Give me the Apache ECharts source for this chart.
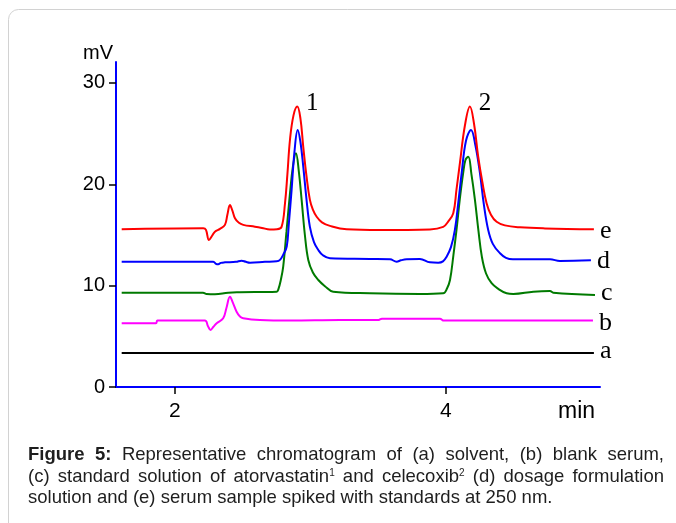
<!DOCTYPE html>
<html>
<head>
<meta charset="utf-8">
<script src="https://cdn.jsdelivr.net/npm/echarts@6/dist/echarts.min.js"></script>
<style>
html,body{margin:0;padding:0;background:#fff;}
#wrap{position:relative;width:676px;height:523px;overflow:hidden;}
#chart{position:absolute;left:0;top:0;width:676px;height:523px;}
#cap{position:absolute;left:28px;top:443px;width:636px;font-family:'Liberation Sans',Arial,sans-serif;font-size:18.5px;line-height:21.5px;color:#1e1e1e;}
#cap .j{text-align:justify;text-align-last:justify;white-space:nowrap;}
#cap sup{font-size:10px;line-height:0;vertical-align:6px;}
</style>
</head>
<body>
<div id="wrap">
<div id="chart"></div>
<div id="cap">
<div class="j"><b>Figure 5:</b> Representative chromatogram of (a) solvent, (b) blank serum,</div>
<div class="j">(c) standard solution of atorvastatin<sup>1</sup> and celecoxib<sup>2</sup> (d) dosage formulation</div>
<div>solution and (e) serum sample spiked with standards at 250 nm.</div>
</div>
</div>
<script>
// time (min), signal (mV)
var seriesNames = ['a', 'b', 'c', 'd', 'e'];
var seriesColors = ['#000000', '#ff00ff', '#007a00', '#0000ff', '#ff0000'];
var xTicks = [2, 4];
var yTicks = [0, 10, 20, 30];
var peakLabels = ['1', '2'];

var trace_a = [[1.607, 3.36], [5.092, 3.36]];
var trace_b = [
  [1.607, 6.29], [1.860, 6.29], [1.871, 6.55], [2.221, 6.55], [2.244, 6.0], [2.263, 5.63],
  [2.284, 5.95], [2.308, 6.29], [2.356, 6.78], [2.380, 7.8], [2.406, 8.91], [2.428, 8.3],
  [2.455, 7.43], [2.480, 6.95], [2.504, 6.78], [2.627, 6.6], [2.849, 6.55], [3.218, 6.6],
  [3.498, 6.6], [3.528, 6.74], [3.956, 6.74], [3.985, 6.55], [5.085, 6.55]
];
var trace_c = [
  [1.607, 9.31], [2.207, 9.31], [2.234, 9.18], [2.295, 9.15], [2.393, 9.31], [2.480, 9.35],
  [2.751, 9.41], [2.762, 9.58], [2.782, 10.6], [2.799, 11.88], [2.823, 15.3], [2.849, 19.1],
  [2.871, 21.8], [2.893, 23.07], [2.914, 21.3], [2.935, 18.46], [2.959, 15.0], [2.984, 12.54],
  [3.018, 11.3], [3.058, 10.56], [3.107, 9.95], [3.168, 9.41], [3.439, 9.25], [3.808, 9.18],
  [3.980, 9.25], [4.007, 9.7], [4.030, 10.56], [4.055, 13.0], [4.078, 15.5], [4.103, 18.6],
  [4.127, 21.1], [4.144, 22.4], [4.165, 22.73], [4.188, 21.0], [4.214, 18.46], [4.240, 15.4],
  [4.265, 12.86], [4.296, 11.2], [4.337, 10.24], [4.384, 9.7], [4.448, 9.25], [4.497, 9.18],
  [4.645, 9.41], [4.768, 9.48], [4.792, 9.31], [5.100, 9.08]
];
var trace_d = [
  [1.607, 12.37], [2.283, 12.37], [2.303, 12.15], [2.320, 12.11], [2.339, 12.25], [2.369, 12.3],
  [2.450, 12.35], [2.492, 12.47], [2.524, 12.35], [2.554, 12.27], [2.664, 12.35], [2.751, 12.4],
  [2.775, 12.54], [2.801, 13.1], [2.825, 13.85], [2.841, 16.2], [2.861, 19.45], [2.882, 23.2],
  [2.906, 25.37], [2.926, 24.2], [2.947, 21.75], [2.971, 18.5], [2.996, 15.8], [3.026, 14.3],
  [3.058, 13.52], [3.092, 13.0], [3.144, 12.7], [3.439, 12.64], [3.587, 12.6], [3.636, 12.37],
  [3.668, 12.5], [3.710, 12.6], [3.808, 12.64], [3.882, 12.3], [3.943, 12.27], [3.978, 12.4],
  [4.005, 12.86], [4.037, 13.8], [4.066, 15.5], [4.092, 18.3], [4.116, 21.1], [4.148, 24.3],
  [4.185, 25.37], [4.218, 23.8], [4.251, 21.1], [4.280, 18.0], [4.312, 15.5], [4.347, 14.1],
  [4.399, 13.2], [4.443, 12.75], [4.494, 12.6], [4.768, 12.6], [4.841, 12.44], [5.070, 12.5]
];
var trace_e = [
  [1.607, 15.57], [2.209, 15.66], [2.229, 15.5], [2.251, 14.5], [2.273, 14.9], [2.295, 15.33],
  [2.332, 15.6], [2.369, 16.0], [2.387, 17.0], [2.406, 17.97], [2.424, 17.4], [2.443, 16.65],
  [2.472, 16.2], [2.504, 16.0], [2.590, 15.82], [2.642, 15.7], [2.701, 15.55], [2.753, 15.57],
  [2.787, 15.8], [2.812, 18.1], [2.830, 21.0], [2.849, 24.4], [2.875, 26.8], [2.903, 27.67],
  [2.926, 26.5], [2.947, 23.7], [2.971, 20.8], [2.996, 18.46], [3.018, 17.5], [3.046, 16.8],
  [3.085, 16.25], [3.144, 15.9], [3.267, 15.57], [3.513, 15.5], [3.882, 15.55], [3.980, 15.8],
  [4.015, 16.3], [4.054, 17.15], [4.078, 19.5], [4.103, 22.08], [4.140, 25.8], [4.177, 27.67],
  [4.207, 26.0], [4.238, 22.73], [4.269, 20.2], [4.300, 18.13], [4.332, 17.0], [4.374, 16.3],
  [4.435, 15.95], [4.546, 15.76], [4.731, 15.65], [5.092, 15.57]
];
var traces = [trace_a, trace_b, trace_c, trace_d, trace_e];
var peakPositions = [[2.903, 27.67], [4.177, 27.67]];

var chart = echarts.init(document.getElementById('chart'), null, {renderer: 'canvas'});
var numFont = "'Liberation Sans', Arial, sans-serif";
var serifFont = "'Liberation Serif', 'Times New Roman', serif";
var labelOffsets = [[0, -2], [0, 3], [0, -2], [0, 1], [0, 2]];

var series = traces.map(function (tr, i) {
  return {
    name: seriesNames[i],
    type: 'line',
    data: tr,
    showSymbol: false,
    symbol: 'none',
    smooth: 0.4,
    lineStyle: {color: seriesColors[i], width: 2},
    itemStyle: {color: seriesColors[i]},
    animation: false,
    silent: true,
    endLabel: {
      show: true,
      formatter: '{a}',
      distance: 6,
      offset: labelOffsets[i],
      color: '#000',
      fontFamily: serifFont,
      fontSize: 26
    }
  };
});

var baseGraphics = [
  {type: 'rect', z: -10, silent: true, shape: {x: 8.5, y: 9.5, width: 720, height: 600, r: 10},
   style: {fill: 'none', stroke: '#d2d2d2', lineWidth: 1}},
  {type: 'text', x: 83, y: 53, silent: true,
   style: {text: 'mV', fontFamily: numFont, fontSize: 20, fill: '#000', verticalAlign: 'middle', align: 'left'}},
  {type: 'text', x: 558, y: 412, silent: true,
   style: {text: 'min', fontFamily: numFont, fontSize: 23, fill: '#000', verticalAlign: 'middle', align: 'left'}}
];

chart.setOption({
  animation: false,
  backgroundColor: '#ffffff',
  grid: {left: 116, right: 76, top: 62, bottom: 136, containLabel: false},
  xAxis: {
    type: 'value', min: 1.565, max: 5.137,
    axisLine: {show: true, lineStyle: {color: '#0000ff', width: 2}},
    axisTick: {show: true, customValues: xTicks, length: 7, lineStyle: {color: '#000', width: 1.5}},
    axisLabel: {show: true, customValues: xTicks, margin: 14, color: '#000', fontFamily: numFont, fontSize: 21},
    splitLine: {show: false}
  },
  yAxis: {
    type: 'value', min: 0, max: 32.07,
    axisLine: {show: true, lineStyle: {color: '#0000ff', width: 2}},
    axisTick: {show: true, customValues: yTicks, length: 7, lineStyle: {color: '#000', width: 1.5}},
    axisLabel: {show: true, customValues: yTicks, margin: 11, color: '#000', fontFamily: numFont, fontSize: 20},
    splitLine: {show: false}
  },
  series: series,
  graphic: baseGraphics
});

// peak number labels, positioned from the data via the chart's scales
var peakGraphics = peakPositions.map(function (p, i) {
  var px = chart.convertToPixel({gridIndex: 0}, p);
  return {type: 'text', x: px[0] + 15, y: px[1] - 3, silent: true,
    style: {text: peakLabels[i], fontFamily: serifFont, fontSize: 25, fill: '#000', verticalAlign: 'middle', align: 'center'}};
});
chart.setOption({graphic: baseGraphics.concat(peakGraphics)}, {replaceMerge: ['graphic']});
</script>
</body>
</html>
